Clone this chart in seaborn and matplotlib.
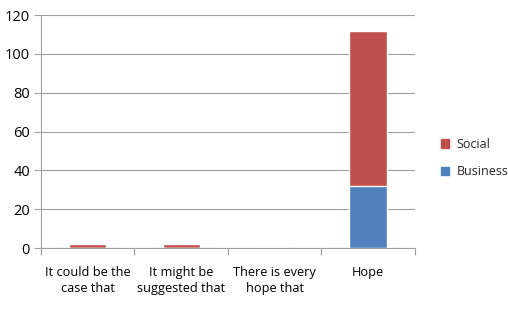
import matplotlib
matplotlib.use("Agg")
import matplotlib.pyplot as plt
import seaborn as sns
import pandas as pd
from matplotlib.patches import Patch

categories = ["It could be the\ncase that", "It might be\nsuggested that", "There is every\nhope that", "Hope"]
business = [0, 0, 0, 32]
social = [2, 2, 0, 80]
yticks = [0, 20, 40, 60, 80, 100, 120]

c_social = "#C0504D"
c_business = "#4F81BD"

sns.set_theme(style="white")
plt.rcParams['font.family'] = ['Open Sans', 'DejaVu Sans']

df = pd.DataFrame({"cat": categories, "business": business, "social": social})
df["total"] = df["business"] + df["social"]

fig = plt.figure(figsize=(5.08, 3.10), dpi=100)
ax = fig.add_axes([0.0807, 0.2, 0.736, 0.7516])

sns.barplot(data=df, x="cat", y="total", color=c_social, width=0.4, ax=ax, saturation=1, zorder=3)
sns.barplot(data=df, x="cat", y="business", color=c_business, width=0.4, ax=ax, saturation=1, zorder=4)

ax.set_ylim(0, 120)
ax.set_xlim(-0.5, 3.5)
ax.set_yticks(yticks)
ax.set_xlabel("")
ax.set_ylabel("")
ax.yaxis.grid(True, color="#a0a0a0", linewidth=0.8, zorder=0)
ax.set_axisbelow(True)
for s in ["top", "right"]:
    ax.spines[s].set_visible(False)
for s in ["left", "bottom"]:
    ax.spines[s].set_color("#a0a0a0")
    ax.spines[s].set_linewidth(0.8)

ax.tick_params(axis="y", which="major", length=5, color="#a0a0a0", width=0.8, labelsize=10.5, pad=3, left=True, labelcolor="black")
ax.tick_params(axis="x", which="major", length=0, labelsize=9.2, pad=13, labelcolor="black")
ax.set_xticks([-0.5, 0.5, 1.5, 2.5, 3.5], minor=True)
ax.tick_params(axis="x", which="minor", length=5, color="#a0a0a0", width=0.8, bottom=True)
for lbl in ax.get_xticklabels():
    lbl.set_verticalalignment("top")
    lbl.set_linespacing(1.25)

handles = [Patch(color=c_social, label="Social"), Patch(color=c_business, label="Business")]
fig.legend(handles=handles, loc="center left", bbox_to_anchor=(0.845, 0.49), frameon=False,
           fontsize=9, handlelength=0.7, handleheight=0.7, handletextpad=0.6, labelspacing=1.15)

fig.savefig("out.png", dpi=100)
